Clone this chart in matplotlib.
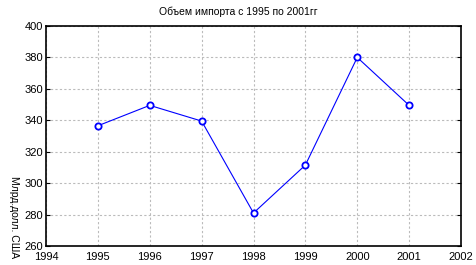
import matplotlib
matplotlib.use("Agg")
import matplotlib.pyplot as plt

years = [1995, 1996, 1997, 1998, 1999, 2000, 2001]
imports = [336.5, 349.5, 339.5, 281, 311.5, 380, 349.5]

x_ticks = list(range(1994, 2003))
y_ticks = list(range(260, 401, 20))

plt.rcParams["font.family"] = ["Liberation Sans", "DejaVu Sans"]

fig = plt.figure(figsize=(4.76, 2.65), dpi=100)
ax = fig.add_axes([46 / 476, 19 / 265, 415 / 476, 220 / 265])

ax.plot(years, imports, color="#0000ff", linewidth=0.8, marker="o",
        markersize=4.5, markerfacecolor="white", markeredgecolor="#0000ff",
        markeredgewidth=1.3)

ax.set_xlim(1994, 2002)
ax.set_ylim(260, 400)
ax.set_xticks(x_ticks)
ax.set_yticks(y_ticks)
ax.tick_params(labelsize=8, direction="in", length=3, right=True, bottom=False)
ax.tick_params(axis="x", pad=4)
ax.tick_params(axis="y", pad=2)
ax.grid(True, color="#bbbbbb", linestyle=(0, (2, 2)), linewidth=0.8)
for s in ax.spines.values():
    s.set_linewidth(1.2)

fig.text(0.5, 0.955, "Объем импорта с 1995 по 2001гг", ha="center", va="center", fontsize=7.5)
fig.text(14 / 476, 1 - 176 / 265, "Млрд.долл. США", rotation=270, ha="center", va="top", fontsize=7.5)

fig.savefig("out.png", dpi=100)
